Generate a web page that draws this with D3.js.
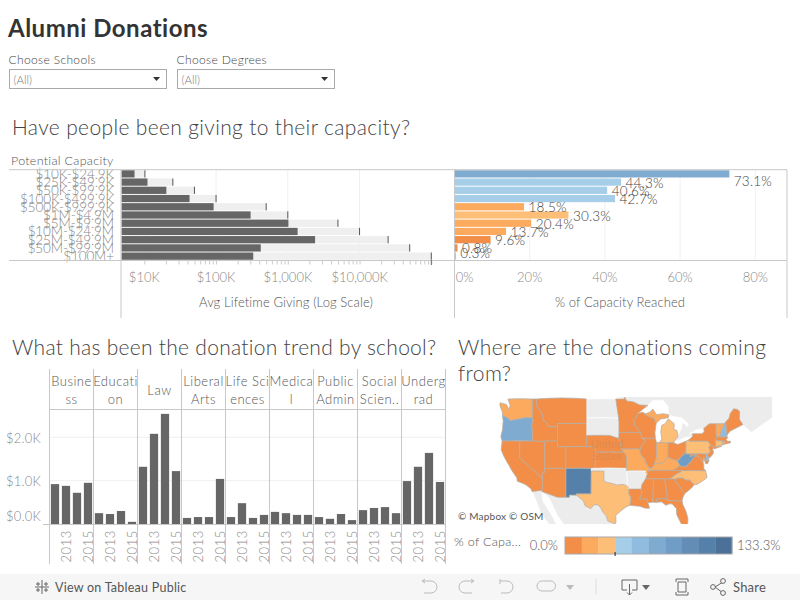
<!DOCTYPE html>
<html><head><meta charset="utf-8">
<script src="https://cdnjs.cloudflare.com/ajax/libs/d3/7.8.5/d3.min.js"></script>
<style>
html,body{margin:0;padding:0;background:#fff;overflow:hidden}
svg{display:block}
text{font-family:"Lato","Open Sans",sans-serif}
</style></head><body>
<svg id="c" width="800" height="600"></svg>
<script>
// ---------- data ----------
const capacityLabels=["$10K-$24.9K","$25K-$49.9K","$50K-$99.9K","$100K-$499.9K","$500K-$999.9K","$1M-$4.9M","$5M-$9.9M","$10M-$24.9M","$25M-$49.9M","$50M-$99.9M","$100M+"];
const potentialValues=[10200,25000,50000,100000,500000,1000000,5000000,10000000,25000000,50000000,100000000];
const givingValues=[7310,11075,20300,42700,92500,303000,1020000,1370000,2400000,420000,330000];
const percentValues=[73.1,44.3,40.6,42.7,18.5,30.3,20.4,13.7,9.6,0.8,0.3];
const givingTicks=[10000,100000,1000000,10000000];
const percentTicks=[0,20,40,60,80];

const schools=["Business","Education","Law","Liberal Arts","Life Sciences","Medical","Public Admin","Social Sciences","Undergrad"];
const schoolHeaderLines=[["Busine","ss"],["Educati","on"],["Law"],["Liberal","Arts"],["Life Sci","ences"],["Medica","l"],["Public","Admin"],["Social","Scien.."],["Underg","rad"]];
const years=[2012,2013,2014,2015];
const yearTicks=[2013,2015];
const trendBusiness=[0.92,0.88,0.72,0.95];
const trendEducation=[0.25,0.23,0.30,0.05];
const trendLaw=[1.32,2.08,2.54,1.22];
const trendLiberal=[0.14,0.16,0.16,1.04];
const trendLife=[0.16,0.48,0.14,0.21];
const trendMedical=[0.28,0.25,0.21,0.21];
const trendPublic=[0.16,0.12,0.23,0.09];
const trendSocial=[0.32,0.37,0.39,0.25];
const trendUndergrad=[0.99,1.32,1.64,0.97];
const trendSeries=[trendBusiness,trendEducation,trendLaw,trendLiberal,trendLife,trendMedical,trendPublic,trendSocial,trendUndergrad];
const trendTicks=[0,1,2];

const legendColors=["#f28e47","#fbaa5e","#fdbf78","#a6cee8","#90bcdf","#80abd0","#6f9dc6","#648db5","#5580a9","#4b7198"];
const stateValues={WA:20,OR:75,CA:8,NV:8,ID:8,MT:8,WY:8,UT:8,CO:8,AZ:8,NM:118,NE:8,KS:8,TX:30,MN:8,IA:8,MO:20,LA:8,WI:8,IL:8,IN:20,MI:30,MIU:20,OH:8,KY:20,TN:8,MS:8,AL:8,GA:8,FL:8,SC:8,NC:30,VA:8,WV:85,MD:8,DE:65,PA:30,NJ:8,NY:8,VT:20,NH:60,ME:8,MA:8,CT:30,RI:20};

// simplified geographic outlines, [longitude, latitude]
const stateOutlines={
WA:[[-124.7,48.4],[-123.2,48.15],[-122.5,47.3],[-122.3,48],[-122.8,49],[-117,49],[-117,46],[-118.9,46],[-119.3,45.9],[-121.2,45.65],[-122.3,45.55],[-122.8,45.9],[-123.4,46.2],[-124.1,46.25],[-124.1,46.9],[-124.7,47.9]],
OR:[[-124.1,46.25],[-123.4,46.2],[-122.8,45.9],[-122.3,45.55],[-121.2,45.65],[-119.3,45.9],[-118.9,46],[-117,46],[-116.9,45.6],[-117.2,44.4],[-117,44.2],[-117,42],[-124.2,42],[-124.5,42.8],[-124.1,44],[-123.95,45.5]],
CA:[[-124.2,42],[-120,42],[-120,39],[-114.6,35],[-114.7,34.3],[-114.5,33.4],[-114.7,32.7],[-117.1,32.5],[-117.3,33],[-118.4,33.75],[-119.2,34.1],[-120.6,34.55],[-120.7,35.2],[-121.9,36.6],[-122.5,37.5],[-122.9,38],[-123.8,39.3],[-124.4,40.4]],
NV:[[-120,42],[-117,42],[-114.05,42],[-114.05,36.2],[-114.7,36.1],[-114.6,35],[-120,39]],
ID:[[-117,49],[-116.05,49],[-116.05,48],[-114.7,46.7],[-114.4,45.6],[-113.5,45.1],[-113.1,44.5],[-111.05,44.5],[-111.05,42],[-114.05,42],[-117,42],[-117,44.2],[-117.2,44.4],[-116.9,45.6],[-117,46]],
MT:[[-116.05,49],[-104.05,49],[-104.05,45],[-111.05,45],[-111.05,44.5],[-113.1,44.5],[-113.5,45.1],[-114.4,45.6],[-114.7,46.7],[-116.05,48]],
WY:[[-111.05,45],[-104.05,45],[-104.05,41],[-111.05,41]],
UT:[[-114.05,42],[-111.05,42],[-111.05,41],[-109.05,41],[-109.05,37],[-114.05,37]],
CO:[[-109.05,41],[-102.05,41],[-102.05,37],[-109.05,37]],
AZ:[[-114.05,37],[-109.05,37],[-109.05,31.33],[-111.07,31.33],[-114.8,32.5],[-114.7,32.7],[-114.5,33.4],[-114.7,34.3],[-114.6,35],[-114.7,36.1],[-114.05,36.2]],
NM:[[-109.05,37],[-103,37],[-103.05,32],[-106.6,32],[-106.5,31.75],[-108.2,31.78],[-108.2,31.33],[-109.05,31.33]],
ND:[[-104.05,49],[-97.2,49],[-96.6,46.3],[-96.55,45.93],[-104.05,45.93]],
SD:[[-104.05,45.93],[-96.55,45.93],[-96.45,45.3],[-96.45,43.5],[-96.5,42.5],[-97.9,42.8],[-98.5,43],[-104.05,43]],
NE:[[-104.05,43],[-98.5,43],[-97.9,42.8],[-96.5,42.5],[-96.1,41.7],[-95.85,40.7],[-95.3,40],[-102.05,40],[-102.05,41],[-104.05,41]],
KS:[[-102.05,40],[-95.3,40],[-94.9,39.8],[-94.6,39.1],[-94.62,37],[-102.05,37]],
OK:[[-103,37],[-94.62,37],[-94.62,36.5],[-94.43,35.4],[-94.48,33.64],[-95.5,33.9],[-97,33.8],[-98,34.1],[-99.2,34.3],[-100,34.56],[-100,36.5],[-103,36.5]],
TX:[[-106.6,32],[-103.05,32],[-103,36.5],[-100,36.5],[-100,34.56],[-99.2,34.3],[-98,34.1],[-97,33.8],[-95.5,33.9],[-94.48,33.64],[-94.04,33.55],[-94.04,32],[-93.55,31.2],[-93.85,29.7],[-94.7,29.4],[-95.9,28.6],[-97.2,27.6],[-97.15,25.96],[-97.6,25.85],[-99.1,26.4],[-99.5,27.5],[-100.3,28.3],[-100.7,29.1],[-101.4,29.77],[-102.4,29.8],[-103.1,29],[-104.5,29.6],[-104.9,30.6],[-106.5,31.75]],
MN:[[-97.2,49],[-95.15,49],[-95.15,49.38],[-94.6,48.7],[-93,48.55],[-91.5,48.07],[-89.6,48],[-92,46.7],[-92.3,46.1],[-92.9,45.6],[-92.75,44.75],[-91.2,43.5],[-96.45,43.5],[-96.45,45.3],[-96.55,45.93],[-96.6,46.3]],
IA:[[-96.45,43.5],[-91.2,43.5],[-91.1,42.7],[-90.15,41.9],[-91.1,41.2],[-91.4,40.4],[-91.75,40.6],[-95.77,40.58],[-96.1,41.7],[-96.5,42.5]],
MO:[[-95.77,40.58],[-91.75,40.6],[-91.4,40.4],[-91.5,40],[-90.7,39],[-90.2,38.8],[-90.2,38.3],[-89.5,37.3],[-89.15,37],[-89.5,36.5],[-89.7,36],[-90.37,36],[-90.1,36.5],[-94.62,36.5],[-94.62,37],[-94.6,39.1],[-94.9,39.8],[-95.3,40]],
AR:[[-94.62,36.5],[-90.1,36.5],[-90.37,36],[-89.7,36],[-90.1,35],[-91,33.9],[-91.15,33],[-94.04,33],[-94.04,33.55],[-94.48,33.64],[-94.43,35.4]],
LA:[[-94.04,33],[-91.15,33],[-91,32],[-91.6,31],[-89.75,31],[-89.6,30.2],[-89.4,29.8],[-89.2,29.1],[-90.2,29.1],[-91.5,29.5],[-92.3,29.55],[-93.85,29.7],[-93.55,31.2],[-94.04,32]],
WI:[[-92,46.7],[-90.8,46.9],[-89.1,46.15],[-88.1,45.9],[-87.6,45.1],[-87.9,43.5],[-87.8,42.5],[-90.65,42.5],[-91.1,42.7],[-91.2,43.5],[-92.75,44.75],[-92.9,45.6],[-92.3,46.1]],
IL:[[-90.65,42.5],[-87.8,42.5],[-87.5,41.7],[-87.53,39.3],[-87.6,38.7],[-88.05,37.8],[-88.5,37.1],[-89.15,37],[-89.5,37.3],[-90.2,38.3],[-90.2,38.8],[-90.7,39],[-91.5,40],[-91.4,40.4],[-91.1,41.2],[-90.15,41.9]],
IN:[[-87.5,41.7],[-87.2,41.75],[-84.8,41.7],[-84.82,39.1],[-85.4,38.7],[-86,38],[-87,37.9],[-88.05,37.8],[-87.6,38.7],[-87.53,39.3]],
MI:[[-86.8,41.76],[-84.8,41.7],[-83.45,41.72],[-83.1,42.2],[-82.5,42.7],[-82.45,43],[-82.7,43.9],[-83.4,44],[-83.3,45],[-84.7,45.8],[-85.5,45],[-86.3,44.7],[-86.5,43.6],[-86.25,42.4]],
MIU:[[-90.4,46.55],[-89.1,46.15],[-88.1,45.9],[-87.6,45.1],[-86.5,45.8],[-84.7,46],[-84.6,46.5],[-86,46.65],[-87.5,46.5],[-88.4,47.4],[-89,46.95]],
OH:[[-84.8,41.7],[-83.45,41.72],[-82.5,41.4],[-81.3,41.75],[-80.52,41.98],[-80.52,40.64],[-80.85,39.7],[-81.7,39.2],[-82.2,38.6],[-82.6,38.45],[-83.7,38.65],[-84.82,39.1]],
KY:[[-89.15,37],[-88.5,37.1],[-88.05,37.8],[-87,37.9],[-86,38],[-85.4,38.7],[-84.82,39.1],[-83.7,38.65],[-82.6,38.45],[-81.97,37.55],[-83.68,36.6],[-88.07,36.65],[-89.5,36.5]],
TN:[[-90.1,35],[-89.7,36],[-89.5,36.5],[-88.07,36.65],[-83.68,36.6],[-81.68,36.59],[-81.7,36.3],[-82.6,36],[-84.32,35],[-85.6,34.98],[-88.2,35]],
MS:[[-90.1,35],[-88.2,35],[-88.4,30.35],[-89.6,30.2],[-89.75,31],[-91.6,31],[-91,32],[-91.15,33],[-91,33.9]],
AL:[[-88.2,35],[-85.6,34.98],[-85.18,32.87],[-85,32.3],[-85.05,31],[-87.6,31],[-87.5,30.3],[-88.1,30.3],[-88.4,30.35]],
GA:[[-85.6,34.98],[-84.32,35],[-83.1,35],[-83.35,34.7],[-82.6,34.1],[-81.9,33.4],[-81.4,32.6],[-80.85,32.05],[-81.3,31.2],[-81.45,30.7],[-82.05,30.37],[-82.2,30.57],[-84.86,30.7],[-85.05,31],[-85,32.3],[-85.18,32.87]],
FL:[[-87.6,31],[-85.05,31],[-84.86,30.7],[-82.2,30.57],[-82.05,30.37],[-81.45,30.7],[-81.3,29.9],[-80.5,28.4],[-80.05,26.9],[-80.15,25.7],[-80.9,25.15],[-81.7,25.9],[-82.7,27.7],[-82.8,29],[-83.7,29.9],[-84.3,30.05],[-85.3,29.7],[-86.3,30.4],[-87.5,30.3]],
SC:[[-83.1,35],[-82.3,35.2],[-81.05,35.15],[-80.8,34.82],[-79.67,34.8],[-78.55,33.86],[-79.2,33.2],[-80.85,32.05],[-81.4,32.6],[-81.9,33.4],[-82.6,34.1],[-83.35,34.7]],
NC:[[-84.32,35],[-82.6,36],[-81.7,36.3],[-81.68,36.59],[-75.87,36.55],[-75.5,35.25],[-76.5,34.65],[-77.9,33.9],[-78.55,33.86],[-79.67,34.8],[-80.8,34.82],[-81.05,35.15],[-82.3,35.2],[-83.1,35]],
VA:[[-83.68,36.6],[-81.97,37.55],[-81.3,37.3],[-80.3,37.5],[-79.3,38.4],[-78.35,39.4],[-77.75,39.3],[-77.05,38.85],[-76.3,37.9],[-76.3,37],[-75.87,36.55],[-81.68,36.59]],
WV:[[-82.6,38.45],[-82.2,38.6],[-81.7,39.2],[-80.85,39.7],[-80.52,40.64],[-80.52,39.72],[-79.48,39.72],[-79.48,39.2],[-78.35,39.6],[-77.75,39.3],[-78.35,39.4],[-79.3,38.4],[-80.3,37.5],[-81.3,37.3],[-81.97,37.55]],
MD:[[-79.48,39.72],[-75.79,39.72],[-75.7,38.46],[-75.05,38.45],[-75.4,37.9],[-75.9,37.95],[-76.3,39.1],[-76.45,38.2],[-77.05,38.85],[-77.75,39.3],[-78.35,39.6],[-79.48,39.2]],
DE:[[-75.79,39.72],[-75.4,39.8],[-75.1,38.8],[-75.05,38.45],[-75.7,38.46]],
PA:[[-80.52,41.98],[-79.76,42.27],[-79.76,42],[-75.35,42],[-74.7,41.36],[-75.1,40.9],[-74.7,40.15],[-75.4,39.8],[-75.79,39.72],[-80.52,39.72]],
NJ:[[-74.7,41.36],[-73.9,41],[-74.2,40.45],[-74,40.2],[-74.1,39.7],[-74.9,38.95],[-75.5,39.5],[-74.7,40.15],[-75.1,40.9]],
NY:[[-79.76,42.27],[-78.9,42.9],[-79.05,43.27],[-76.8,43.3],[-76.2,43.6],[-76.3,44.2],[-75,44.98],[-73.35,45],[-73.4,43.6],[-73.25,42.75],[-73.5,42.05],[-73.5,41.3],[-73.65,41],[-72,41.1],[-73.9,40.6],[-73.9,41],[-74.7,41.36],[-75.35,42],[-79.76,42]],
VT:[[-73.35,45],[-71.5,45],[-71.6,44.5],[-72.05,44],[-72.45,42.73],[-73.25,42.75],[-73.4,43.6]],
NH:[[-71.5,45],[-71.1,45.3],[-70.75,43.1],[-70.8,42.87],[-71.3,42.7],[-72.45,42.73],[-72.05,44],[-71.6,44.5]],
ME:[[-71.1,45.3],[-70.3,45.9],[-70,46.7],[-69.2,47.45],[-68.3,47.35],[-67.8,47.07],[-67.8,45.7],[-67,44.85],[-68.5,44.3],[-70,43.75],[-70.75,43.1]],
MA:[[-73.5,42.05],[-73.25,42.75],[-72.45,42.73],[-71.3,42.7],[-70.8,42.87],[-70.6,42.6],[-71,42.3],[-70.6,41.95],[-70,42],[-69.95,41.7],[-71.12,41.5],[-71.38,42.02]],
CT:[[-73.5,42.05],[-71.8,42.02],[-71.85,41.32],[-73.65,41],[-73.5,41.3]],
RI:[[-71.8,42.02],[-71.38,42.02],[-71.12,41.5],[-71.85,41.32]]
};
const landOutlines=[
[[-130,49],[-95.15,49],[-95.15,49.38],[-94.6,48.7],[-93,48.55],[-91.5,48.07],[-89.6,48],[-88.3,48.8],[-86,48.8],[-84.8,47.9],[-84.6,46.5],[-83.5,46.2],[-81.5,46],[-80,45],[-80,44.5],[-81.3,45.2],[-81.7,44],[-82.45,43],[-82.5,42.7],[-83.1,42.2],[-82.5,42],[-81,42.6],[-79,42.85],[-79.05,43.27],[-79.7,43.3],[-78,44],[-76.3,44.2],[-75,44.98],[-73.35,45],[-71.5,45],[-71.1,45.3],[-70.3,45.9],[-70,46.7],[-69.2,47.45],[-68.3,47.35],[-67.8,47.07],[-67.8,45.7],[-67,44.85],[-65,43.5],[-60,46],[-60,60],[-130,60]],
[[-114.8,32.5],[-111.07,31.33],[-109.05,31.33],[-108.2,31.33],[-108.2,31.78],[-106.5,31.75],[-104.9,30.6],[-104.5,29.6],[-103.1,29],[-102.4,29.8],[-101.4,29.77],[-100.7,29.1],[-100.3,28.3],[-99.5,27.5],[-99.1,26.4],[-97.6,25.85],[-97.15,25.96],[-97.7,22.5],[-105.5,20],[-109,25],[-111,27.5],[-113,31.2]],
[[-117.1,32.5],[-114.8,32.5],[-114.5,30.5],[-112,27],[-110,23],[-112,24.5],[-115,28],[-116,30.5]]
];
const unshadedStates=["ND","SD","OK","AR"];

// ---------- helpers ----------
const svg=d3.select("#c");
const W=800,H=600;
const inkDark="#333",rule="#c8c8c8",grid="#f0f0f0",barDark="#666",barPale="#efefef";
function txt(g,x,y,s,o={}){
  return g.append("text").attr("x",x).attr("y",y).text(s)
    .attr("fill",o.fill||"#555").attr("font-size",o.size||13)
    .attr("text-anchor",o.anchor||"start").attr("dominant-baseline","central")
    .style("font-weight",o.weight||300).style("letter-spacing",o.ls||"0px");
}
function vline(g,x,y1,y2,c=rule){g.append("line").attr("x1",x).attr("x2",x).attr("y1",y1).attr("y2",y2).attr("stroke",c).attr("stroke-width",1)}
function hline(g,y,x1,x2,c=rule){g.append("line").attr("x1",x1).attr("x2",x2).attr("y1",y).attr("y2",y).attr("stroke",c).attr("stroke-width",1)}

const colorScale=d3.scaleQuantize().domain([0,133.3]).range(legendColors);

// ---------- header + filters ----------
const head=svg.append("g");
txt(head,8,27,"Alumni Donations",{size:24,weight:700,fill:inkDark,ls:"0.5px"});
[["Choose Schools",9],["Choose Degrees",177]].forEach(([s,x])=>{
  txt(head,x-.5,59.5,s,{size:12,fill:"#444",ls:"0.35px"});
  head.append("rect").attr("x",x+.5).attr("y",69.5).attr("width",157).attr("height",19).attr("fill","#fff").attr("stroke","#aaa");
  txt(head,x+4.5,79,"(All)",{size:11.5,fill:"#777"});
  head.append("path").attr("d",`M${x+144},77h7l-3.5,4z`).attr("fill","#333");
});
txt(head,12,126.5,"Have people been giving to their capacity?",{size:21,fill:"#444",ls:"0.35px"});
txt(head,12,346.5,"What has been the donation trend by school?",{size:21,fill:"#444",ls:"0.28px"});
txt(head,458,346.5,"Where are the donations coming",{size:21,fill:"#444",ls:"0.4px"});
txt(head,458,372.5,"from?",{size:21,fill:"#444",ls:"0.4px"});

// ---------- capacity bars ----------
const cap=svg.append("g");
const rowY=d3.scaleBand().domain(capacityLabels).range([170,260]).paddingInner(0.12).paddingOuter(0.03);
const xLog=d3.scaleLog().domain([10000,100000000]).range([144.3,431.3]);
const xPct=d3.scaleLinear().domain([0,80]).range([454.5,755.3]);
const logBase=xLog.invert(121.5);

txt(cap,11,160.5,"Potential Capacity",{size:12.5,fill:"#555",ls:"0.3px"});
givingTicks.forEach(t=>vline(cap,xLog(t),170,260,grid));
percentTicks.slice(1).forEach(t=>vline(cap,xPct(t),170,260,grid));

cap.selectAll(".pale").data(capacityLabels).join("rect")
  .attr("x",xLog(logBase)).attr("y",d=>rowY(d)).attr("height",rowY.bandwidth())
  .attr("width",(d,i)=>xLog(potentialValues[i])-xLog(logBase)).attr("fill",barPale);
cap.selectAll(".dark").data(capacityLabels).join("rect")
  .attr("x",xLog(logBase)).attr("y",d=>rowY(d)).attr("height",rowY.bandwidth())
  .attr("width",(d,i)=>xLog(givingValues[i])-xLog(logBase)).attr("fill",barDark);
cap.selectAll(".ref").data(capacityLabels).join("line")
  .attr("x1",(d,i)=>xLog(potentialValues[i])).attr("x2",(d,i)=>xLog(potentialValues[i]))
  .attr("y1",d=>rowY(d)).attr("y2",d=>rowY(d)+rowY.bandwidth()).attr("stroke","#555").attr("stroke-width",1);

capacityLabels.forEach(l=>txt(cap,114,rowY(l)+rowY.bandwidth()/2,l,{anchor:"end",size:13.5,fill:"#888",ls:"-0.1px"}));

cap.selectAll(".pct").data(capacityLabels).join("rect")
  .attr("x",xPct(0)).attr("y",d=>rowY(d)).attr("height",rowY.bandwidth())
  .attr("width",(d,i)=>xPct(percentValues[i])-xPct(0)).attr("fill",(d,i)=>colorScale(percentValues[i]));
const labelShift=[7,0,0,0,0,0,0,0,0,0,-4];
capacityLabels.forEach((l,i)=>txt(cap,xPct(percentValues[i])+4.5,rowY(l)+rowY.bandwidth()/2+labelShift[i]+.5,d3.format(".1f")(percentValues[i])+"%",{size:13.5,fill:"#444",ls:"0.2px"}));

hline(cap,169.7,9,787);hline(cap,260.5,9,787);
vline(cap,121,170,318);vline(cap,454.5,170,318);vline(cap,787,170,318);

const logAxis=d3.axisBottom(xLog).tickSize(4).tickFormat("");
const logG=cap.append("g").attr("transform","translate(0,260.5)").call(logAxis);
logG.select(".domain").remove();
logG.selectAll("line").attr("stroke","#ccc");
givingTicks.forEach(t=>txt(cap,xLog(t),277,"$"+d3.format(",")(t/1000)+"K",{anchor:"middle",size:13,fill:"#888"}));
vline(cap,xLog(100000000),260,265,"#666");

const pctAxis=d3.axisBottom(xPct).tickValues(percentTicks).tickSize(0).tickFormat("");
const pctG=cap.append("g").attr("transform","translate(0,260.5)").call(pctAxis);
pctG.select(".domain").remove();
percentTicks.forEach(t=>{
  const lx=t===0?xPct(t)+10:xPct(t);
  txt(cap,lx,277,t+"%",{anchor:"middle",size:13,fill:"#888"});
});
txt(cap,286,302,"Avg Lifetime Giving (Log Scale)",{anchor:"middle",size:13,fill:"#555",ls:"0.1px"});
txt(cap,620,302,"% of Capacity Reached",{anchor:"middle",size:13,fill:"#555",ls:"0.1px"});

// ---------- trend small multiples ----------
const tr=svg.append("g");
const panelX=d3.scaleBand().domain(schools).range([49.5,445.5]);
const yearX=d3.scaleBand().domain(years).range([0,panelX.bandwidth()]).paddingInner(0.25).paddingOuter(0.125);
const yTrend=d3.scaleLinear().domain([0,2]).range([524,437.3]);

trendTicks.slice(1).forEach(t=>hline(tr,yTrend(t),49.5,445,grid));
schools.forEach((s,i)=>{
  const g=tr.append("g").attr("transform",`translate(${panelX(s)},0)`);
  g.selectAll("rect").data(trendSeries[i]).join("rect")
    .attr("x",(d,j)=>yearX(years[j])).attr("width",yearX.bandwidth())
    .attr("y",d=>yTrend(d)).attr("height",d=>yTrend(0)-yTrend(d)).attr("fill",barDark);
  const ln=schoolHeaderLines[i];
  const cx=panelX.bandwidth()/2;
  if(ln.length===1) txt(g,cx,390,ln[0],{anchor:"middle",size:13,fill:"#555",ls:"0.5px"});
  else ln.forEach((t,k)=>txt(g,cx,381+18*k,t,{anchor:"middle",size:13,fill:"#555",ls:"0.5px"}));
  yearTicks.forEach(yr=>{
    g.append("text").text(yr)
      .attr("transform",`translate(${yearX(yr)+yearX.bandwidth()/2},530) rotate(-90)`)
      .attr("text-anchor","end").attr("dominant-baseline","central")
      .attr("font-size",13).attr("fill","#888").style("font-weight",300).style("letter-spacing","0.6px");
  });
});
d3.range(schools.length+1).forEach(i=>{
  const x=49.5+i*panelX.step();
  vline(tr,x,369,564);
});
hline(tr,409.5,49.5,445.5);
hline(tr,524.5,43,445.5);
trendTicks.forEach(t=>{
  txt(tr,41,t===0?516:yTrend(t)+.5,"$"+d3.format(".1f")(t)+"K",{anchor:"end",size:13,fill:"#888",ls:"0.2px"});
});

// ---------- map ----------
const map=svg.append("g");
const defs=svg.append("defs");
defs.append("clipPath").attr("id","mapClip").append("rect").attr("x",495).attr("y",397).attr("width",293).attr("height",127);
const proj=d3.geoMercator().scale(241.2).center([-124.7,49]).translate([500,399]).precision(0.1);
const geoPath=d3.geoPath(proj);
function ringFeature(ring){
  const r=ring.slice();
  if(d3.polygonArea(r)<0) r.reverse();
  return {type:"Polygon",coordinates:[r.concat([r[0]])]};
}
const mapClip=map.append("g").attr("clip-path","url(#mapClip)");
landOutlines.forEach(r=>mapClip.append("path").attr("d",geoPath(ringFeature(r))).attr("fill","#ececec").attr("stroke","#fff").attr("stroke-width",.5));
Object.keys(stateOutlines).forEach(k=>{
  const shaded=!unshadedStates.includes(k);
  mapClip.append("path").attr("d",geoPath(ringFeature(stateOutlines[k])))
    .attr("fill",shaded?colorScale(stateValues[k]):"#ececec")
    .attr("stroke",shaded?"#b8aea4":"#fff").attr("stroke-width",shaded?.8:.7);
});
txt(map,607,443,"United",{anchor:"middle",size:11,fill:"#e08a50",weight:400});
txt(map,607,455,"States",{anchor:"middle",size:11,fill:"#e08a50",weight:400});
map.append("rect").attr("x",456).attr("y",509).attr("width",84).attr("height",14).attr("fill","#fff").attr("fill-opacity",.7);
txt(map,458,516,"© Mapbox  © OSM",{size:10,fill:"#555",weight:400,ls:"0.2px"});

// ---------- legend ----------
const lg=svg.append("g");
txt(lg,454,541,"% of Capa...",{size:12.5,fill:"#555",ls:"0.3px"});
txt(lg,558,545,"0.0%",{anchor:"end",size:13,fill:"#555"});
txt(lg,737,545,"133.3%",{size:13,fill:"#555"});
const legX=d3.scaleBand().domain(d3.range(legendColors.length)).range([565,732]);
lg.selectAll(".sw").data(legendColors).join("rect")
  .attr("x",(d,i)=>legX(i)).attr("y",537).attr("width",legX.bandwidth()+.3).attr("height",17).attr("fill",d=>d);
lg.append("rect").attr("x",565).attr("y",537).attr("width",167).attr("height",17).attr("fill","none").attr("stroke","#a8a8a8");
vline(lg,legX(3),552,556,"#222");

// ---------- toolbar ----------
const tb=svg.append("g");
tb.append("rect").attr("x",0).attr("y",574).attr("width",W).attr("height",26).attr("fill","#f6f6f6");
const ic="#666",icl="#bbb";
function icon(d,c,w=1){tb.append("path").attr("d",d).attr("fill","none").attr("stroke",c).attr("stroke-width",w)}
icon("M42,580v14M35,587h14M38,582v4M36,584h4M46,582v4M44,584h4M38,588v4M36,590h4M46,588v4M44,590h4",ic);
txt(tb,55,587,"View on Tableau Public",{size:12.5,fill:"#555",weight:400,ls:"0.25px"});
icon("M422,581h9a6,6 0 0 1 0,12h-7M422,581l3,-2M422,581l3,2",icl);
icon("M474,581h-9a6,6 0 0 0 0,12h7M474,581l-3,-2M474,581l-3,2",icl);
icon("M500,579v5M500,581h7a6,6 0 0 1 0,12h-6",icl);
icon("M551,581h-9a5,5 0 0 0 0,10h8a5,5 0 0 0 1,-10",icl);
tb.append("path").attr("d","M566,585h8l-4,5z").attr("fill",icl);
vline(tb,596,579,594,"#ddd");
icon("M622,580h15v10h-5M627,590h-5v-10M629.5,584v11M627,592.5l2.5,2.5l2.5,-2.5",ic);
tb.append("path").attr("d","M642,585h8l-4,5z").attr("fill",ic);
icon("M676,582v-3h12v3M676,592v3h12v-3M678,582h8v10h-8z",ic);
icon("M715,587l8,-5M715,587l8,6",ic);
tb.append("circle").attr("cx",713).attr("cy",587).attr("r",2.4).attr("fill","#f6f6f6").attr("stroke",ic);
tb.append("circle").attr("cx",723).attr("cy",581).attr("r",2.4).attr("fill","#f6f6f6").attr("stroke",ic);
tb.append("circle").attr("cx",723).attr("cy",593).attr("r",2.4).attr("fill","#f6f6f6").attr("stroke",ic);
txt(tb,733,587,"Share",{size:13,fill:"#555",weight:400,ls:"0.2px"});
</script>
</body></html>
